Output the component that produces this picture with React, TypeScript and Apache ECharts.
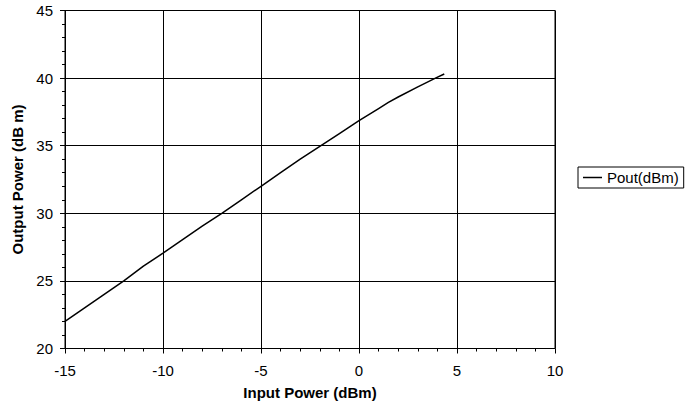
import React, { useEffect, useRef } from "react";
import * as echarts from "echarts";

const inputPower = [-15, -14, -13, -12, -11, -10, -9, -8, -7, -6, -5, -4, -3, -2, -1, 0, 1, 1.5, 2, 3, 3.9, 4.35];
const outputPower = [22.0, 23.0, 24.0, 25.0, 26.1, 27.05, 28.05, 29.05, 30.0, 31.0, 32.0, 33.0, 34.0, 34.95, 35.9, 36.85, 37.75, 38.2, 38.6, 39.35, 40.0, 40.3];
const seriesName = "Pout(dBm)";
const xAxisName = "Input Power (dBm)";
const yAxisName = "Output Power (dB m)";

const FONT = "'Liberation Sans', Arial, sans-serif";

export default function App() {
  const ref = useRef<HTMLDivElement>(null);
  useEffect(() => {
    if (!ref.current) return;
    const chart = echarts.init(ref.current, null, { renderer: "svg" });
    const data = inputPower.map((x, i) => [x, outputPower[i]]);
    chart.setOption({
      animation: false,
      backgroundColor: "#fff",
      textStyle: { fontFamily: FONT, color: "#000" },
      grid: {
        left: 65,
        top: 10.5,
        right: 138,
        bottom: 61.5,
        show: true,
        borderColor: "#000",
        borderWidth: 1,
      },
      legend: {
        show: true,
        left: "578px",
        top: "167px",
        padding: [3, 5, 3, 5],
        borderColor: "#000",
        borderWidth: 1,
        icon: "rect",
        itemWidth: 19,
        itemHeight: 1.5,
        itemStyle: { color: "#000", borderWidth: 0 },
        textStyle: { fontFamily: FONT, fontSize: 15, color: "#000" },
      },
      xAxis: {
        type: "value",
        min: -15,
        max: 10,
        interval: 5,
        name: xAxisName,
        nameLocation: "middle",
        nameGap: 36,
        nameTextStyle: { fontFamily: FONT, fontSize: 15, fontWeight: "bold", color: "#000" },
        axisLine: { show: true, onZero: false, lineStyle: { color: "#000", width: 1 } },
        axisTick: { show: true, inside: false, length: 5, lineStyle: { color: "#000" } },
        minorTick: { show: true, splitNumber: 5, length: 3, lineStyle: { color: "#000" } },
        axisLabel: { fontFamily: FONT, fontSize: 15, color: "#000", margin: 14 },
        splitLine: { show: true, lineStyle: { color: "#000", width: 1 } },
      },
      yAxis: {
        type: "value",
        min: 20,
        max: 45,
        interval: 5,
        name: yAxisName,
        nameLocation: "middle",
        nameGap: 31,
        nameTextStyle: { fontFamily: FONT, fontSize: 15, fontWeight: "bold", color: "#000" },
        axisLine: { show: true, onZero: false, lineStyle: { color: "#000", width: 1 } },
        axisTick: { show: true, inside: false, length: 5, lineStyle: { color: "#000" } },
        minorTick: { show: true, splitNumber: 5, length: 3, lineStyle: { color: "#000" } },
        axisLabel: { fontFamily: FONT, fontSize: 15, color: "#000", margin: 12 },
        splitLine: { show: true, lineStyle: { color: "#000", width: 1 } },
      },
      series: [
        {
          name: seriesName,
          type: "line",
          data,
          symbol: "none",
          showSymbol: false,
          lineStyle: { color: "#000", width: 1.5 },
          itemStyle: { color: "#000" },
        },
      ],
    });
    return () => chart.dispose();
  }, []);
  return <div ref={ref} style={{ position: "fixed", left: 0, top: 0, width: 693, height: 410 }} />;
}
